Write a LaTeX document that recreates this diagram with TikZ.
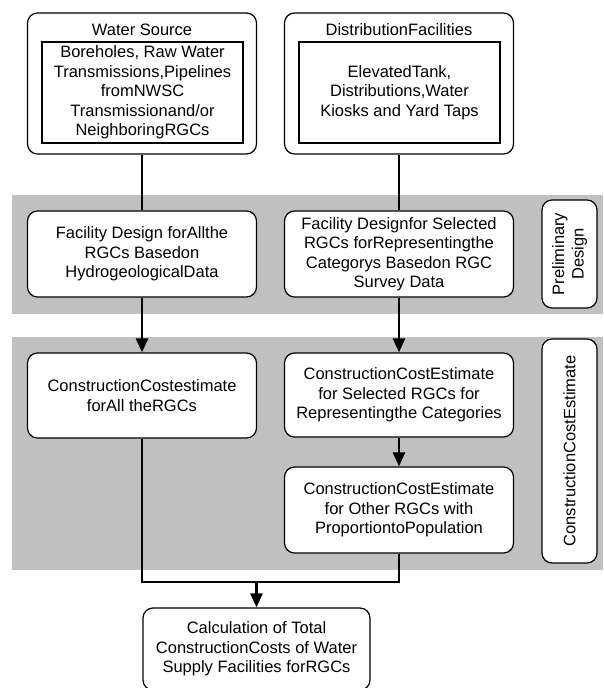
\documentclass[tikz,border=0pt]{standalone}
\usepackage{fontspec}
\setmainfont{Liberation Sans}
\usetikzlibrary{arrows.meta}
\definecolor{bandgray}{RGB}{192,192,192}

\begin{document}
\begin{tikzpicture}[x=1pt, y=-1pt,
  every node/.style={font=\fontsize{16.5}{19.5}\selectfont, align=center, inner sep=0pt},
  proc/.style={draw, line width=1.2pt, rounded corners=10pt, fill=white,
    minimum width=229pt, minimum height=86pt},
  inbox/.style={draw, line width=1.2pt, minimum width=201pt, minimum height=101pt},
  side/.style={draw, line width=1.2pt, rounded corners=10pt, fill=white,
    rotate=90, minimum height=55pt},
  link/.style={line width=2.6pt},
  arr/.style={line width=2.6pt, -{Triangle[width=12pt,length=14pt]}}]

  % 两列的中心位置
  \pgfmathsetmacro{\xl}{142}
  \pgfmathsetmacro{\xr}{399}

  \useasboundingbox (0,0) rectangle (603,688);

  % ---- 灰色底带 ----
  \fill[bandgray] (12,195) rectangle (603,314);   % 初步设计
  \fill[bandgray] (12,337) rectangle (603,570);   % 造价估算

  % ---- 顶部两框 ----
  \node[proc, minimum height=141pt] (ws) at (\xl,83.5) {};
  \node (wstitle) at (\xl,30) {Water Source};
  \node[inbox] (wsin) at (\xl+0.5,92.5)
    {Boreholes, Raw Water\\Transmissions,Pipelines\\fromNWSC\\Transmissionand/or\\NeighboringRGCs};

  \node[proc, minimum height=141pt] (df) at (\xr,83.5) {};
  \node (dftitle) at (\xr,30) {DistributionFacilities};
  \node[inbox] (dfin) at (\xr+0.5,92.5)
    {ElevatedTank,\\Distributions,Water\\Kiosks and Yard Taps};

  % ---- 初步设计 ----
  \node[proc] (fdl) at (\xl,254)
    {Facility Design forAllthe\\RGCs Basedon\\HydrogeologicalData};
  \node[proc] (fdr) at (\xr,254)
    {Facility Designfor Selected\\RGCs forRepresentingthe\\Categorys Basedon RGC\\Survey Data};
  \node[side, minimum width=108pt] (pd) at (569.5,254) {Preliminary\\Design};

  % ---- 造价估算 ----
  \node[proc, minimum height=85pt] (ccl) at (\xl,395.5)
    {ConstructionCostestimate\\forAll theRGCs};
  \node[proc, minimum height=84pt] (ccr) at (\xr,395)
    {ConstructionCostEstimate\\for Selected RGCs for\\Representingthe Categories};
  \node[proc] (cco) at (\xr,510)
    {ConstructionCostEstimate\\for Other RGCs with\\ProportiontoPopulation};
  \node[side, minimum width=224pt] (ce) at (569.5,451) {ConstructionCostEstimate};

  % ---- 汇总 ----
  \node[proc, minimum width=227pt, minimum height=82pt] (total) at (256.5,649)
    {Calculation of Total\\ConstructionCosts of Water\\Supply Facilities forRGCs};

  % ---- 连线 ----
  \draw[link] (ws) -- (fdl);
  \draw[link] (df) -- (fdr);
  \draw[arr] (fdl) -- (ccl);
  \draw[arr] (fdr) -- (ccr);
  \draw[arr] (ccr) -- (cco);

  \coordinate (join) at (total.north |- 0,582);
  \draw[link] (ccl.south) |- (join) -| (cco.south);
  \draw[arr] (join) -- (total);

\end{tikzpicture}
\end{document}
